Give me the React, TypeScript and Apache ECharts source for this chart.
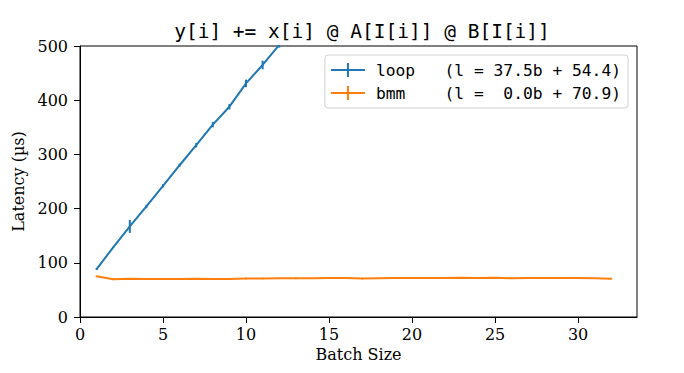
import React, { useEffect, useRef } from "react";
import * as echarts from "echarts";

const batchSizes = [1, 2, 3, 4, 5, 6, 7, 8, 9, 10, 11, 12, 13, 14, 15, 16, 17, 18, 19, 20, 21, 22, 23, 24, 25, 26, 27, 28, 29, 30, 31, 32];
const loopLatency = [88.5, 128.5, 167, 204, 242, 280, 317, 355, 388, 431, 465, 502, 542, 580, 617, 655, 692, 730, 767, 805, 842, 880, 917, 955, 992, 1030, 1067, 1105, 1142, 1180, 1217, 1255];
const loopError = [2, 1, 12, 3, 3, 3, 4, 5, 5, 7, 8, 5, 5, 5, 5, 5, 5, 5, 5, 5, 5, 5, 5, 5, 5, 5, 5, 5, 5, 5, 5, 5];
const bmmLatency = [75, 69.5, 70.5, 70, 70, 70.3, 70.5, 70, 70.3, 71, 71.2, 71.5, 71.3, 71.5, 72, 71.8, 71, 71.5, 72, 72, 71.8, 72, 72.2, 72, 72.2, 71.5, 72, 72, 71.8, 71.8, 71.3, 70.8];
const bmmError = [1.5, 1.5, 1.5, 1.5, 1.5, 0.8, 1.5, 0.8, 0.8, 1.5, 1.5, 0.8, 1.5, 0.8, 1.5, 0.8, 1.5, 0.8, 1.5, 1.5, 0.8, 1.5, 0.8, 1.5, 1.5, 1.5, 0.8, 0.8, 0.8, 1.5, 0.8, 1.5];
const seriesNames = ["loop", "bmm"];
const legendLabels: Record<string, string> = {
  loop: "loop   (l = 37.5b + 54.4)",
  bmm: "bmm    (l =  0.0b + 70.9)",
};
const titleText = "y[i] += x[i] @ A[I[i]] @ B[I[i]]";
const xTicks = { min: 0, max: 33.55, interval: 5 };
const yTicks = { min: 0, max: 500, interval: 100 };

const BLUE = "#1f77b4";
const ORANGE = "#ff7f0e";

function errorSeries(name: string, xs: number[], ys: number[], es: number[], color: string) {
  return {
    type: "custom",
    name,
    clip: true,
    data: xs.map((x, i) => [x, ys[i], es[i]]),
    encode: { x: 0, y: 1 },
    z: 3,
    renderItem: (params: any, api: any) => {
      const x = api.value(0);
      const y = api.value(1);
      const e = api.value(2);
      const a = api.coord([x, y + e]);
      const b = api.coord([x, y - e]);
      return {
        type: "line",
        shape: { x1: a[0], y1: a[1], x2: b[0], y2: b[1] },
        style: { stroke: color, lineWidth: 2 },
      };
    },
  };
}

export default function App() {
  const ref = useRef<HTMLDivElement>(null);
  useEffect(() => {
    if (!ref.current) return;
    const chart = echarts.init(ref.current, undefined, { renderer: "svg" });
    const serif = "DejaVu Serif";
    const mono = "DejaVu Sans Mono";
    chart.setOption({
      animation: false,
      backgroundColor: "#ffffff",
      title: {
        text: titleText,
        left: 357,
        top: 16,
        textAlign: "center",
        textStyle: { fontFamily: mono, fontSize: 19.5, fontWeight: "normal", color: "#000" },
      },
      grid: {
        left: 80,
        right: 47,
        top: 46,
        bottom: 56,
        show: true,
        borderColor: "#000",
        borderWidth: 1,
        backgroundColor: "transparent",
      },
      legend: {
        data: seriesNames,
        orient: "vertical",
        right: 56,
        top: 55,
        padding: [5, 7, 5, 6],
        itemGap: 3,
        itemWidth: 34,
        itemHeight: 14,
        icon: "path://M0,6h34v2h-34z M16,0h2v14h-2z",
        backgroundColor: "#ffffff",
        borderColor: "#d0d0d0",
        borderWidth: 1,
        borderRadius: 3,
        formatter: (name: string) => legendLabels[name],
        textStyle: { fontFamily: mono, fontSize: 16.3, color: "#000", lineHeight: 20, padding: [0, 0, 0, 6] },
      },
      xAxis: {
        type: "value",
        min: xTicks.min,
        max: xTicks.max,
        interval: xTicks.interval,
        name: "Batch Size",
        nameLocation: "middle",
        nameGap: 29,
        nameTextStyle: { fontFamily: serif, fontSize: 16, color: "#000" },
        splitLine: { show: false },
        axisLine: { show: true, lineStyle: { color: "#000", width: 1 } },
        axisTick: { show: true, inside: false, length: 6, lineStyle: { color: "#000" } },
        axisLabel: { fontFamily: serif, fontSize: 16, color: "#000", margin: 9, showMaxLabel: false },
      },
      yAxis: {
        type: "value",
        min: yTicks.min,
        max: yTicks.max,
        interval: yTicks.interval,
        name: "Latency (µs)",
        nameLocation: "middle",
        nameGap: 43,
        nameTextStyle: { fontFamily: serif, fontSize: 16, color: "#000" },
        splitLine: { show: false },
        axisLine: { show: true, lineStyle: { color: "#000", width: 1 } },
        axisTick: { show: true, inside: false, length: 6, lineStyle: { color: "#000" } },
        axisLabel: { fontFamily: serif, fontSize: 16, color: "#000", margin: 12 },
      },
      series: [
        {
          type: "line",
          name: "loop",
          data: batchSizes.map((b, i) => [b, loopLatency[i]]),
          showSymbol: false,
          symbol: "none",
          clip: true,
          color: BLUE,
          itemStyle: { color: BLUE },
          lineStyle: { color: BLUE, width: 2 },
          z: 2,
        },
        errorSeries("loop-err", batchSizes, loopLatency, loopError, BLUE),
        {
          type: "line",
          name: "bmm",
          data: batchSizes.map((b, i) => [b, bmmLatency[i]]),
          showSymbol: false,
          symbol: "none",
          clip: true,
          color: ORANGE,
          itemStyle: { color: ORANGE },
          lineStyle: { color: ORANGE, width: 2 },
          z: 4,
        },
        { ...errorSeries("bmm-err", batchSizes, bmmLatency, bmmError, ORANGE), z: 5 },
      ],
    });
    return () => chart.dispose();
  }, []);
  return (
    <div
      ref={ref}
      style={{ position: "fixed", left: 0, top: 0, width: 684, height: 373, background: "#fff" }}
    />
  );
}
